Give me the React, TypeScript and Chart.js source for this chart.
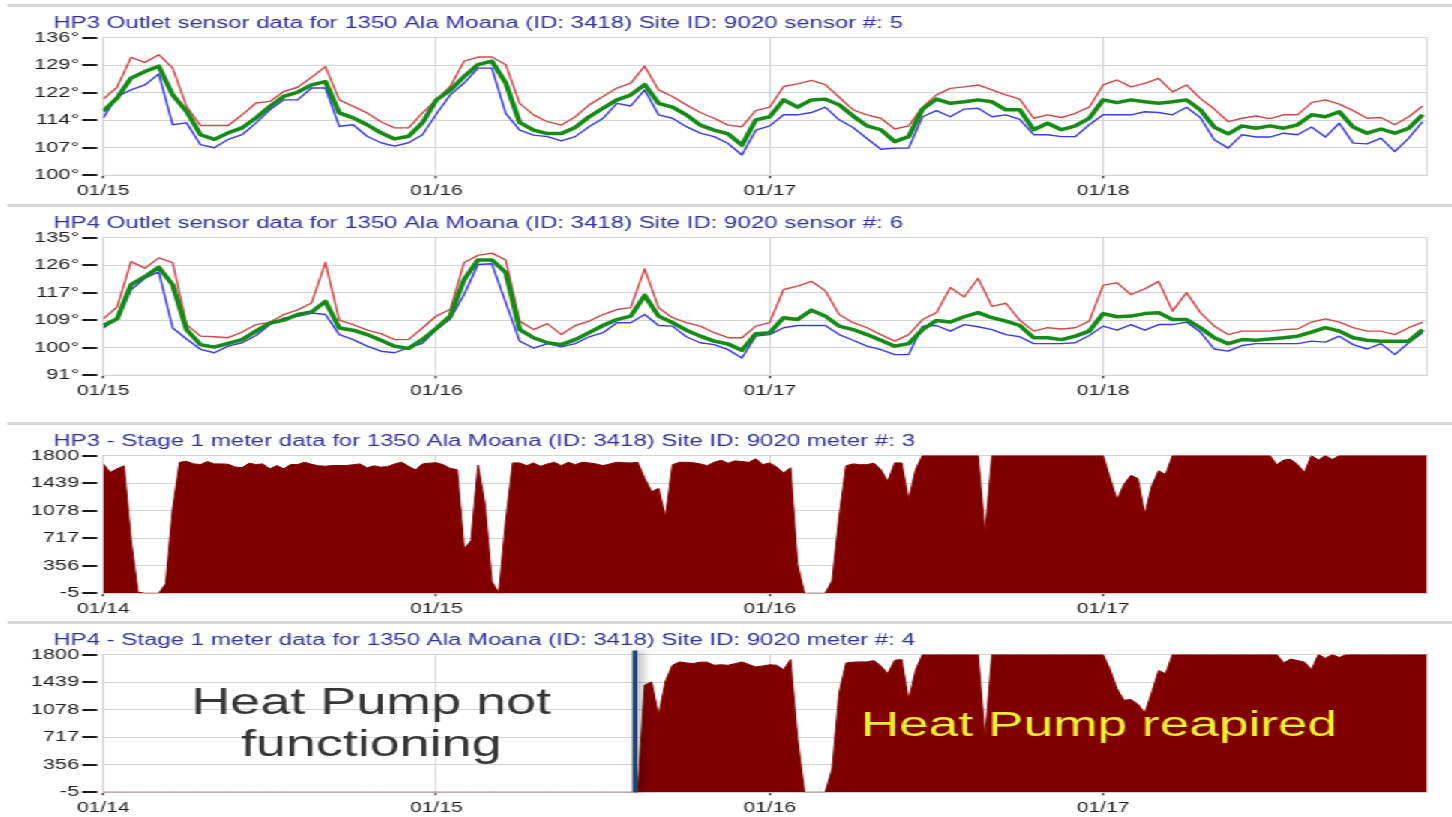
import React, { useEffect, useRef } from "react";
import { Chart, registerables } from "chart.js";

Chart.register(...registerables);

// ---------- layout constants (canvas units, later stretched horizontally) ----------
const STRETCH = 1.5;
const CANVAS_W = 968;
const PANEL_H = 200;
const PLOT_LEFT = 68.7;
const PLOT_RIGHT = 951.3;
const PLOT_TOP = 37.5;
const X_AXIS_H = 24;
const FONT = '"Liberation Sans", Arial, sans-serif';
const GRID = "#d4d4d4";
const TITLE_COLOR = "#30309e";
const TICK_COLOR = "#1e1e1e";

// ---------- axis definitions ----------
const DAY_TICKS = [0, 24, 48, 72];
const X_MAX = 95.3;
const TEMP_DAY_LABELS = ["01/15", "01/16", "01/17", "01/18"];
const METER_DAY_LABELS = ["01/14", "01/15", "01/16", "01/17"];
const HP3_TEMP_TICKS = [100, 107.2, 114.4, 121.6, 128.8, 136];
const HP4_TEMP_TICKS = [91, 99.8, 108.6, 117.4, 126.2, 135];
const METER_TICKS = [-5, 356, 717, 1078, 1439, 1800];

const TEMP_STEP_HOURS = 1;
const METER_STEP_HOURS = 0.5;

// ---------- HP3 outlet temperatures (hourly) ----------
const hp3OutletMax = [
  119.9, 123, 130.8, 129.5, 131.5, 128, 118, 113, 113, 113, 115.8, 118.9, 119.3, 121.9, 123, 125.6, 128.4, 119.7, 118, 116.3, 114, 112.4, 112.4, 116.3,
  119.7, 123.2, 129.8, 130.9, 130.9, 128.9, 118.8, 115.8, 114, 113.1, 115.3, 118.4, 120.6, 122.8, 124.1, 128.5, 122.3, 120.6, 118.4, 116.4, 114.9, 113.1, 112.7, 116.9,
  117.8, 123.2, 123.9, 124.8, 123.7, 120.4, 117.1, 115.8, 114.9, 112.1, 112.9, 117.8, 121, 122.7, 123.1, 123.6, 122.3, 121, 119.9, 114.9, 115.8, 115.1, 116.2, 117.8,
  123.6, 124.9, 123.1, 124, 125.3, 121.8, 123.6, 120.1, 117.3, 114, 114.9, 115.5, 114.8, 115.8, 115.8, 119, 119.7, 118.6, 116.9, 114.9, 115.1, 113.2, 115.3, 118.1,
];
const hp3OutletAvg = [
  116.7, 120.2, 125.4, 127.1, 128.5, 121, 116.7, 110.6, 109.4, 111.1, 112.4, 115, 118, 120.6, 121.7, 123.6, 124.5, 116.3, 115, 113.2, 111.1, 109.5, 110.2, 113.7,
  119.7, 122.2, 125.8, 128.9, 129.8, 124.1, 113.8, 111.8, 110.9, 110.9, 112.5, 115.3, 117.5, 119.7, 121, 123.7, 118.8, 117.8, 115.8, 113.1, 111.8, 110.8, 107.9, 114.5,
  115.3, 119.7, 117.8, 119.7, 119.9, 118.4, 115.5, 112.9, 111.9, 108.8, 110.1, 117.3, 119.9, 118.8, 119.2, 119.7, 119.2, 117.1, 117.1, 111.9, 113.6, 111.9, 112.9, 114.9,
  119.7, 119, 119.7, 119.2, 118.8, 119.2, 119.7, 117.1, 112.6, 110.8, 112.9, 112.3, 112.9, 112.3, 113.2, 115.8, 115.3, 116.6, 112.6, 111, 112.1, 111, 112.3, 115.8,
];
const hp3OutletMin = [
  115, 120.6, 122.3, 123.6, 126.5, 113.2, 113.7, 108, 107.2, 109.4, 110.6, 113.7, 117.1, 119.7, 119.7, 122.8, 122.8, 112.8, 113.2, 110.2, 108.5, 107.6, 108.5, 110.6,
  116, 121, 124.1, 128, 128, 116.2, 111.8, 110.5, 110.1, 109, 110.1, 112.7, 114.9, 118.8, 118.1, 122.3, 115.8, 114.9, 112.7, 111, 110.1, 108.3, 105.3, 111.8,
  112.9, 115.8, 115.8, 116.4, 117.8, 114.5, 112.5, 109.6, 106.8, 107.1, 107.1, 115.3, 116.9, 115.3, 117.3, 117.5, 115.3, 115.8, 114.6, 110.6, 110.6, 110.1, 110.1, 113.2,
  115.8, 115.8, 115.8, 116.6, 116.4, 115.8, 117.8, 115.1, 109.3, 107.1, 110.6, 110, 110, 111, 110.6, 112.6, 110, 113.6, 108.4, 108.2, 109.7, 106.2, 109.7, 114,
];

// ---------- HP4 outlet temperatures (hourly) ----------
const hp4OutletMax = [
  109, 112.8, 127.3, 125.2, 128.5, 127, 107.2, 103.5, 103.3, 103, 104.8, 107.2, 107.9, 110.4, 111.9, 114.1, 127, 108.6, 107.2, 105.4, 104.3, 102.4, 102.4, 106.1,
  110, 112, 127, 129.3, 130, 127.8, 108.3, 105.6, 107.5, 104, 106.9, 108.3, 110.4, 112, 112.6, 125, 112.6, 109.4, 107.8, 106.7, 104.6, 103, 103, 106.7,
  107.8, 118.4, 119.5, 121, 118, 110.4, 107.8, 106.2, 104, 101.9, 104, 108.8, 111, 119, 116, 122, 113, 114, 108.6, 105.1, 106.2, 105.8, 106.2, 108.3,
  119.7, 120.6, 116.8, 118.6, 121, 111.5, 117.4, 111, 106.7, 104, 105.1, 105.1, 105.1, 105.6, 105.8, 108, 109, 108, 106.2, 105.1, 105.1, 104, 106.2, 108,
];
const hp4OutletAvg = [
  106.9, 109, 119.9, 122.5, 125.5, 119.9, 105.6, 100.8, 100, 101.2, 102.4, 105.1, 107.7, 108.6, 110.4, 111.2, 114.6, 106.1, 105.4, 104, 102.2, 100.3, 99.6, 102.4,
  106, 109.9, 121.6, 127.8, 127.8, 123.8, 105.6, 103, 101.4, 100.8, 102.4, 104.6, 106.9, 108.8, 109.9, 116.5, 109.9, 107.8, 105.4, 103.5, 101.9, 101, 99, 104.3,
  104.6, 109.4, 108.8, 111.8, 109.9, 106.7, 105.6, 104, 102.2, 100.3, 101.1, 105.6, 108.5, 108, 109.7, 111, 109.4, 108.3, 106.9, 103, 103, 102.4, 103.5, 105.1,
  110.7, 109.7, 109.9, 110.7, 111, 108.8, 108.8, 106.2, 103, 101.1, 102.4, 102.2, 102.6, 103, 103.5, 104.8, 106.2, 105.1, 103, 102.2, 101.9, 101.9, 101.9, 105.6,
];
const hp4OutletMin = [
  106.1, 109, 118.3, 122, 124, 106.1, 102.6, 99.3, 98.2, 100.3, 101.4, 103.7, 107.2, 109.3, 109.8, 110.9, 110.4, 104, 102.4, 100.3, 98.7, 98.2, 99.8, 101.2,
  105.6, 109, 116.8, 126.4, 126.6, 114.2, 101.9, 99.7, 101.1, 100.1, 101.1, 103.3, 104.6, 107.8, 107.8, 110.4, 106.9, 106.7, 103.3, 101.4, 100.8, 99.2, 96.5, 103.5,
  104, 106.2, 106.9, 106.9, 106.9, 104, 102.2, 100.3, 99.2, 97.6, 97.6, 106.7, 106.9, 105.1, 107.2, 106.5, 105.6, 104, 103.3, 101.1, 101.1, 101.1, 101.4, 103.7,
  106.7, 105.4, 107.2, 105.4, 107.2, 107.2, 108, 104.8, 99.4, 98.7, 100.5, 101.1, 101.1, 101.1, 101.1, 101.9, 101.6, 103.5, 100.8, 99.4, 101.1, 97.6, 101.4, 104.6,
];

// ---------- Stage 1 meter data (half-hourly) ----------
const hp3Stage1 = [
  1690, 1580, 1625, 1665, 700, 10, -5, -5, -5, 120, 1100, 1710,
  1725, 1690, 1682, 1720, 1690, 1690, 1685, 1650, 1640, 1700, 1682, 1690,
  1625, 1669, 1625, 1682, 1682, 1712, 1685, 1665, 1660, 1669, 1669, 1669,
  1680, 1690, 1638, 1665, 1647, 1655, 1690, 1712, 1660, 1610, 1690, 1700,
  1705, 1680, 1630, 1615, 573, 683, 1675, 1165, 150, -5, 940, 1703,
  1703, 1667, 1703, 1658, 1690, 1711, 1667, 1711, 1680, 1711, 1703, 1690,
  1667, 1690, 1711, 1705, 1703, 1711, 1500, 1325, 1370, 993, 1680, 1711,
  1711, 1705, 1690, 1667, 1710, 1738, 1700, 1730, 1720, 1711, 1756, 1680,
  1703, 1650, 1570, 1640, 372, -5, -5, -5, -5, 160, 1000, 1667,
  1690, 1680, 1680, 1700, 1614, 1459, 1703, 1703, 1215, 1614, 1800, 1800,
  1800, 1800, 1800, 1800, 1800, 1800, 1800, 771, 1800, 1800, 1800, 1800,
  1800, 1800, 1800, 1800, 1800, 1800, 1800, 1800, 1800, 1800, 1800, 1800,
  1800, 1500, 1220, 1420, 1540, 1500, 1030, 1400, 1600, 1550, 1800, 1800,
  1800, 1800, 1800, 1800, 1800, 1800, 1800, 1800, 1800, 1800, 1800, 1800,
  1800, 1680, 1740, 1750, 1680, 1578, 1800, 1738, 1800, 1747, 1800, 1800,
  1800, 1800, 1800, 1800, 1800, 1800, 1800, 1800, 1800, 1800, 1800, 1800,
];
const hp4Stage1 = [
  -5, -5, -5, -5, -5, -5, -5, -5, -5, -5, -5, -5,
  -5, -5, -5, -5, -5, -5, -5, -5, -5, -5, -5, -5,
  -5, -5, -5, -5, -5, -5, -5, -5, -5, -5, -5, -5,
  -5, -5, -5, -5, -5, -5, -5, -5, -5, -5, -5, -5,
  -5, -5, -5, -5, -5, -5, -5, -5, -5, -5, -5, -5,
  -5, -5, -5, -5, -5, -5, -5, -5, -5, -5, -5, -5,
  -5, -5, -5, -5, -5, -5, 1400, 1440, 1000, 1450, 1660, 1703,
  1690, 1681, 1700, 1700, 1659, 1665, 1659, 1680, 1703, 1670, 1637, 1650,
  1665, 1660, 1600, 1733, 700, -5, -5, -5, -5, 300, 1300, 1690,
  1700, 1703, 1703, 1720, 1650, 1548, 1725, 1733, 1196, 1593, 1800, 1800,
  1800, 1800, 1800, 1800, 1800, 1800, 1800, 700, 1800, 1800, 1800, 1800,
  1800, 1800, 1800, 1800, 1800, 1800, 1800, 1800, 1800, 1800, 1800, 1800,
  1800, 1600, 1350, 1200, 1210, 1150, 1030, 1300, 1590, 1548, 1800, 1800,
  1800, 1800, 1800, 1800, 1800, 1800, 1800, 1800, 1800, 1800, 1800, 1800,
  1800, 1800, 1690, 1740, 1720, 1700, 1600, 1800, 1750, 1800, 1760, 1800,
  1800, 1800, 1800, 1800, 1800, 1800, 1800, 1800, 1800, 1800, 1800, 1800,
];

// annotation anchors (data units)
const REPAIR_HOUR = 38.3;
const NOTE_BROKEN = { hour: 19.3, line1: 1025, line2: 468 };
const NOTE_FIXED = { hour: 71.7, value: 729 };

const toPoints = (vals: number[], step: number) => vals.map((y, i) => ({ x: i * step, y }));

type Spec = {
  title: string;
  xLabels: string[];
  yTicks: number[];
  yFmt: (v: number) => string;
  datasets: any[];
  extra?: (chart: any) => void;
};

function lineSets(avg: number[], max: number[], min: number[]) {
  return [
    { data: toPoints(avg, TEMP_STEP_HOURS), borderColor: "#168a16", borderWidth: 3.5 },
    { data: toPoints(max, TEMP_STEP_HOURS), borderColor: "#d04848", borderWidth: 1.4 },
    { data: toPoints(min, TEMP_STEP_HOURS), borderColor: "#3a3aee", borderWidth: 1.4 },
  ].map((d) => ({ ...d, pointRadius: 0, fill: false, tension: 0, borderJoinStyle: "round" }));
}

function areaSet(vals: number[]) {
  return [
    {
      data: toPoints(vals, METER_STEP_HOURS),
      borderColor: "#800000",
      backgroundColor: "#800000",
      borderWidth: 1,
      pointRadius: 0,
      fill: "start",
      tension: 0,
    },
  ];
}

function buildConfig(p: Spec) {
  const decor = {
    id: "decor",
    beforeDraw(chart: any) {
      const ctx = chart.ctx;
      ctx.save();
      ctx.fillStyle = "#d8d8d8";
      ctx.fillRect(4.7, 4, CANVAS_W, 3);
      ctx.fillStyle = TITLE_COLOR;
      ctx.font = `16px ${FONT}`;
      ctx.textAlign = "left";
      ctx.textBaseline = "alphabetic";
      ctx.fillText(p.title, 35.5, 28);
      ctx.restore();
    },
    beforeDatasetsDraw(chart: any) {
      const { ctx, chartArea: a, scales } = chart;
      ctx.save();
      ctx.strokeStyle = GRID;
      ctx.lineWidth = 1;
      ctx.strokeRect(a.left, a.top, a.right - a.left, a.bottom - a.top);
      // dash marks next to the y tick labels
      ctx.strokeStyle = "#1a1a1a";
      ctx.lineWidth = 2;
      ctx.beginPath();
      scales.y.ticks.forEach((t: any) => {
        const py = Math.round(scales.y.getPixelForValue(t.value));
        ctx.moveTo(a.left - 14, py);
        ctx.lineTo(a.left - 4, py);
      });
      ctx.stroke();
      ctx.restore();
    },
    afterDatasetsDraw(chart: any) {
      if (p.extra) p.extra(chart);
    },
  };
  return {
    type: "line",
    data: { datasets: p.datasets },
    plugins: [decor],
    options: {
      animation: false,
      responsive: false,
      maintainAspectRatio: false,
      devicePixelRatio: 1,
      layout: { padding: { left: 0, right: CANVAS_W - PLOT_RIGHT, top: PLOT_TOP, bottom: 0 } },
      plugins: { legend: { display: false }, tooltip: { enabled: false }, title: { display: false } },
      scales: {
        x: {
          type: "linear",
          min: 0,
          max: X_MAX,
          afterBuildTicks: (s: any) => {
            s.ticks = DAY_TICKS.map((v) => ({ value: v }));
          },
          afterFit: (s: any) => {
            s.height = X_AXIS_H;
          },
          ticks: {
            autoSkip: false,
            maxRotation: 0,
            padding: 4,
            color: TICK_COLOR,
            font: { family: FONT, size: 14 },
            callback: (v: any) => {
              const i = DAY_TICKS.indexOf(Number(v));
              return i >= 0 ? p.xLabels[i] : "";
            },
          },
          grid: { color: GRID, lineWidth: 1, drawTicks: true, tickLength: 3, tickColor: "#444", tickWidth: 1.5 },
          border: { display: true, color: GRID },
        },
        y: {
          min: p.yTicks[0],
          max: p.yTicks[p.yTicks.length - 1],
          afterBuildTicks: (s: any) => {
            s.ticks = p.yTicks.map((v) => ({ value: v }));
          },
          afterFit: (s: any) => {
            s.width = PLOT_LEFT;
          },
          ticks: {
            padding: 16,
            color: TICK_COLOR,
            font: { family: FONT, size: 14.5 },
            callback: (v: any) => p.yFmt(Number(v)),
          },
          grid: { color: GRID, lineWidth: 1, drawTicks: false },
          border: { display: true, color: GRID },
        },
      },
    },
  };
}

const tempFmt = (v: number) => `${Math.round(v)}°`;
const meterFmt = (v: number) => `${v}`;

const drawHp4Notes = (chart: any) => {
  const { ctx, chartArea: a, scales } = chart;
  const x = scales.x;
  const y = scales.y;
  const px = x.getPixelForValue(REPAIR_HOUR);
  ctx.save();
  ctx.shadowColor = "rgba(0,0,0,0.45)";
  ctx.shadowBlur = 6;
  ctx.shadowOffsetX = 3;
  ctx.fillStyle = "#1f4470";
  ctx.fillRect(px - 1.7, a.top - 4, 3.4, a.bottom - a.top + 4);
  ctx.restore();

  ctx.save();
  ctx.textAlign = "center";
  ctx.textBaseline = "alphabetic";
  ctx.fillStyle = "#363636";
  ctx.font = `36px ${FONT}`;
  const nx = x.getPixelForValue(NOTE_BROKEN.hour);
  ctx.fillText("Heat Pump not", nx, y.getPixelForValue(NOTE_BROKEN.line1));
  ctx.fillText("functioning", nx, y.getPixelForValue(NOTE_BROKEN.line2));
  ctx.fillStyle = "#f0f032";
  ctx.font = `35.5px ${FONT}`;
  ctx.fillText("Heat Pump reapired", x.getPixelForValue(NOTE_FIXED.hour), y.getPixelForValue(NOTE_FIXED.value));
  ctx.restore();
};

const PANELS: { top: number; spec: Spec }[] = [
  {
    top: 0,
    spec: {
      title: "HP3 Outlet sensor data for 1350 Ala Moana (ID: 3418) Site ID: 9020 sensor #: 5",
      xLabels: TEMP_DAY_LABELS,
      yTicks: HP3_TEMP_TICKS,
      yFmt: tempFmt,
      datasets: lineSets(hp3OutletAvg, hp3OutletMax, hp3OutletMin),
    },
  },
  {
    top: 200,
    spec: {
      title: "HP4 Outlet sensor data for 1350 Ala Moana (ID: 3418) Site ID: 9020 sensor #: 6",
      xLabels: TEMP_DAY_LABELS,
      yTicks: HP4_TEMP_TICKS,
      yFmt: tempFmt,
      datasets: lineSets(hp4OutletAvg, hp4OutletMax, hp4OutletMin),
    },
  },
  {
    top: 418,
    spec: {
      title: "HP3 - Stage 1 meter data for 1350 Ala Moana (ID: 3418) Site ID: 9020 meter #: 3",
      xLabels: METER_DAY_LABELS,
      yTicks: METER_TICKS,
      yFmt: meterFmt,
      datasets: areaSet(hp3Stage1),
    },
  },
  {
    top: 617,
    spec: {
      title: "HP4 - Stage 1 meter data for 1350 Ala Moana (ID: 3418) Site ID: 9020 meter #: 4",
      xLabels: METER_DAY_LABELS,
      yTicks: METER_TICKS,
      yFmt: meterFmt,
      datasets: areaSet(hp4Stage1),
      extra: drawHp4Notes,
    },
  },
];

function Panel({ top, spec }: { top: number; spec: Spec }) {
  const ref = useRef<HTMLCanvasElement | null>(null);
  useEffect(() => {
    if (!ref.current) return;
    const chart = new Chart(ref.current, buildConfig(spec) as any);
    return () => chart.destroy();
  }, [spec]);
  return (
    <canvas
      ref={ref}
      width={CANVAS_W}
      height={PANEL_H}
      style={{ position: "absolute", left: 0, top, width: CANVAS_W, height: PANEL_H, display: "block" }}
    />
  );
}

export default function App() {
  return (
    <div
      style={{
        position: "absolute",
        left: 0,
        top: 0,
        width: CANVAS_W,
        height: 817,
        transform: `scaleX(${STRETCH})`,
        transformOrigin: "0 0",
        background: "#fff",
        overflow: "hidden",
      }}
    >
      {PANELS.map((p, i) => (
        <Panel key={i} top={p.top} spec={p.spec} />
      ))}
    </div>
  );
}
